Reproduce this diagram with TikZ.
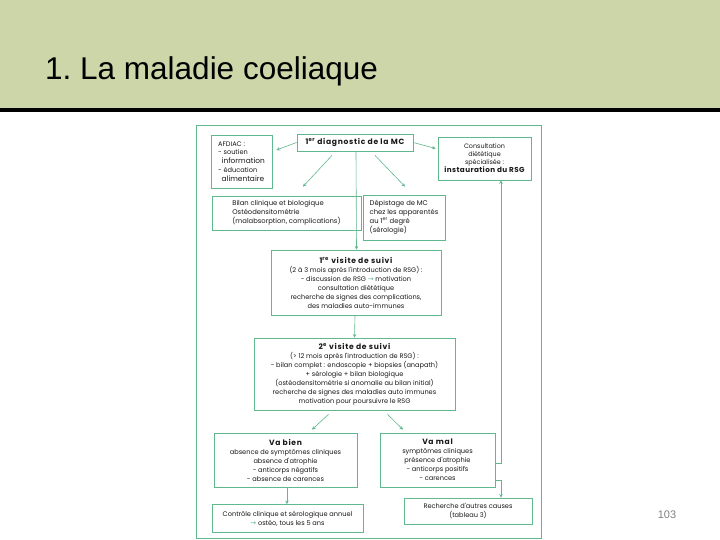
\documentclass[tikz,border=0pt]{standalone}
\usepackage{fontspec}
\setmainfont{Liberation Sans}
\newfontfamily\boxfont{Poppins}
\newfontfamily\symfont{DejaVu Sans}
\usetikzlibrary{arrows.meta}
\definecolor{hdr}{RGB}{204,214,168}
\definecolor{grn}{RGB}{96,184,140}
\definecolor{txt}{RGB}{25,25,25}
\tikzset{
  x=1pt,y=-1pt,
  bx/.style={draw=grn,line width=0.8pt,rectangle,inner sep=1pt,align=center,
    font=\boxfont\fontsize{6.6}{9}\selectfont,text=txt},
  arr/.style={draw=grn,line width=0.6pt,-{Stealth[length=3.5pt,width=3.5pt]}},
}
\newcommand{\gar}{{\color{grn}\symfont\fontsize{7}{7}\selectfont →}}
\newcommand{\hd}[1]{{\fontsize{7.6}{9}\selectfont\bfseries\addfontfeature{LetterSpace=9}#1}}
\newcommand{\bg}[1]{{\fontsize{7.4}{9}\selectfont #1}}
\begin{document}
\begin{tikzpicture}
\useasboundingbox (0,0) rectangle (720,540);
\fill[white] (0,0) rectangle (720,540);
\fill[hdr] (0,0) rectangle (720,109);
\fill[black] (0,108.5) rectangle (720,112);
\node[anchor=base west,font=\fontsize{31.5}{34}\selectfont,inner sep=0] (title) at (45,80) {1.\ La maladie coeliaque};
\node[anchor=base,font=\fontsize{11}{12}\selectfont,text=gray,inner sep=0] (pg) at (667,518) {103};

\draw[grn,line width=0.8pt] (196,125) rectangle (541,538);

\node[bx,minimum width=116,minimum height=17] (diag) at (355,142.5)
  {\hd{1\textsuperscript{er} diagnostic de la MC}};
\node[bx,minimum width=61,minimum height=53,align=left,font=\boxfont\fontsize{6.6}{8.8}\selectfont] (afdiac) at (241.5,161.5)
  {AFDIAC :\\- soutien\\\ \ \bg{information}\\- éducation\\\ \ \bg{alimentaire}};
\node[bx,minimum width=93,minimum height=43,font=\boxfont\fontsize{6.4}{8}\selectfont] (consult) at (484.5,158.5)
  {Consultation\\diététique\\spécialisée :\\{\fontsize{7.2}{9}\selectfont\bfseries\addfontfeature{LetterSpace=6}instauration du RSG}};
\node[bx,minimum width=149,minimum height=34,align=left,font=\boxfont\fontsize{6.8}{8.8}\selectfont] (bilan) at (286.5,213)
  {Bilan clinique et biologique\\Ostéodensitométrie\\(malabsorption, complications)};
\node[bx,minimum width=82,minimum height=45,align=left,font=\boxfont\fontsize{6.8}{9}\selectfont] (depist) at (404,217.5)
  {Dépistage de MC\\chez les apparentés\\au 1\textsuperscript{er} degré\\(sérologie)};
\node[bx,minimum width=170,minimum height=65] (v1) at (356,282.5)
  {\hd{1\textsuperscript{re} visite de suivi}\\(2 à 3 mois après l'introduction de RSG) :\\- discussion de RSG \gar\ motivation\\consultation diététique\\recherche de signes des complications,\\des maladies auto-immunes};
\node[bx,minimum width=201,minimum height=72] (v2) at (354.5,374)
  {\hd{2\textsuperscript{e} visite de suivi}\\(> 12 mois après l'introduction de RSG) :\\- bilan complet : endoscopie + biopsies (anapath)\\+ sérologie + bilan biologique\\(ostéodensitométrie si anomalie au bilan initial)\\recherche de signes des maladies auto immunes\\motivation pour poursuivre le RSG};
\node[bx,minimum width=143,minimum height=54] (vabien) at (285.5,460)
  {\hd{Va bien}\\absence de symptômes cliniques\\absence d'atrophie\\- anticorps négatifs\\- absence de carences};
\node[bx,minimum width=115,minimum height=54] (vamal) at (437.5,460)
  {\hd{Va mal}\\symptômes cliniques\\présence d'atrophie\\- anticorps positifs\\- carences};
\node[bx,minimum width=151,minimum height=28] (ctrl) at (287.5,518.5)
  {Contrôle clinique et sérologique annuel\\\gar\ ostéo, tous les 5 ans};
\node[bx,minimum width=128,minimum height=26] (rech) at (468,511)
  {Recherche d'autres causes\\(tableau 3)};

\draw[arr] (diag.west) -- ([xshift=4pt,yshift=11.5pt]afdiac.east);
\draw[arr] (diag.east) -- ([xshift=-2pt,yshift=10pt]consult.west);
\draw[arr] ([xshift=-23pt,yshift=-4pt]diag.south) -- ([xshift=16.5pt,yshift=9pt]bilan.north);
\draw[arr] ([xshift=20pt,yshift=-4pt]diag.south) -- ([xshift=1pt,yshift=8pt]depist.north);
\draw[arr] ([xshift=1pt]diag.south) -- ([xshift=0.5pt]v1.north);
\draw[arr] ([xshift=-1pt]v1.south) -- (v2.north);
\draw[arr] ([xshift=-26pt,yshift=-4pt]v2.south) -- ([xshift=26.5pt,yshift=3pt]vabien.north);
\draw[arr] ([xshift=33pt,yshift=-4pt]v2.south) -- ([xshift=-34.5pt,yshift=3pt]vamal.north);
\draw[arr] ([xshift=1.5pt]vabien.south) -- ([xshift=-0.5pt]ctrl.north);
\draw[arr] ([yshift=-3pt]vamal.east) -| ([xshift=16.5pt]consult.south);
\draw[arr] ([yshift=-20pt]vamal.east) -| ([xshift=33pt]rech.north);
\end{tikzpicture}
\end{document}
